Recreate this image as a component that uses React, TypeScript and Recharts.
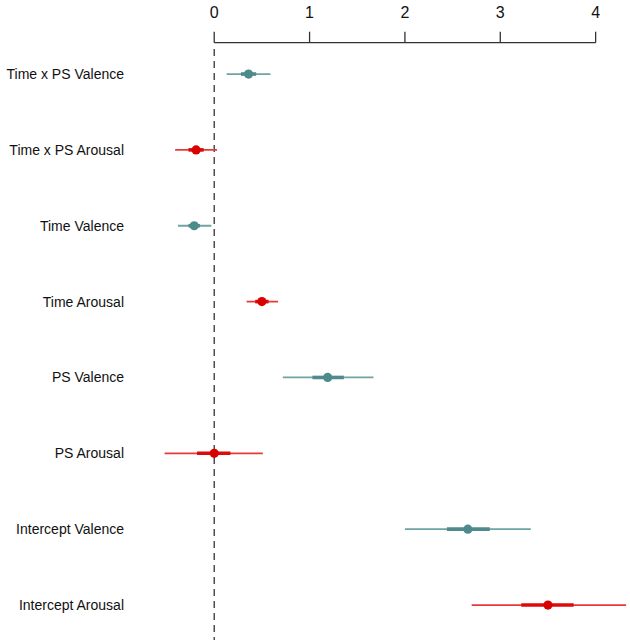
import React from 'react';
import { ScatterChart, Scatter, XAxis, YAxis, ReferenceLine } from 'recharts';

const labels = [
  'Time x PS Valence',
  'Time x PS Arousal',
  'Time Valence',
  'Time Arousal',
  'PS Valence',
  'PS Arousal',
  'Intercept Valence',
  'Intercept Arousal',
];
const groups = ['Valence', 'Arousal', 'Valence', 'Arousal', 'Valence', 'Arousal', 'Valence', 'Arousal'];
const estimates = [0.36, -0.19, -0.21, 0.5, 1.19, 0.0, 2.66, 3.5];
const lower95 = [0.13, -0.41, -0.38, 0.34, 0.72, -0.52, 2.0, 2.7];
const upper95 = [0.59, 0.03, -0.03, 0.67, 1.67, 0.51, 3.32, 4.32];
const lower50 = [0.28, -0.27, -0.27, 0.43, 1.03, -0.18, 2.44, 3.22];
const upper50 = [0.44, -0.11, -0.15, 0.57, 1.36, 0.17, 2.89, 3.77];
const xTicks = [0, 1, 2, 3, 4];

const COLORS: Record<string, { outer: string; inner: string; dot: string }> = {
  Valence: { outer: '#6fa3a4', inner: '#4f8b8d', dot: '#4d8a8b' },
  Arousal: { outer: '#e63a3a', inner: '#dc0b0b', dot: '#d90000' },
};

const rows = labels.map((label, i) => ({
  label,
  group: groups[i],
  y: i + 1,
  x: estimates[i],
  lo95: lower95[i],
  hi95: upper95[i],
  lo50: lower50[i],
  hi50: upper50[i],
}));

const valenceData = rows.filter((r) => r.group === 'Valence');
const arousalData = rows.filter((r) => r.group === 'Arousal');

const Y_DOMAIN: [number, number] = [0.587, 8.461];

const YTick = (props: any) => {
  const { x, y, payload } = props;
  return (
    <text
      x={x}
      y={y}
      dy="0.35em"
      textAnchor="end"
      fontFamily="'Liberation Sans', Arial, sans-serif"
      fontSize={14}
      fill="#111"
    >
      {labels[payload.value - 1]}
    </text>
  );
};

const Dot = (color: string) => (p: any) => <circle cx={p.cx} cy={p.cy} r={4.6} fill={color} />;

export default function App() {
  return (
    <div style={{ position: 'absolute', left: 0, top: 0, background: '#fff' }}>
      <ScatterChart width={630} height={640} margin={{ top: 0, right: 1, bottom: 0, left: 0 }}>
        <XAxis
          type="number"
          dataKey="x"
          orientation="top"
          domain={[-0.6, 4.35]}
          allowDataOverflow
          ticks={xTicks}
          height={42.7}
          axisLine={false}
          tickLine={{ stroke: '#333', strokeWidth: 1.3 }}
          tickSize={11}
          tickMargin={14}
          tick={{ fill: '#111', fontSize: 16, fontFamily: "'Liberation Sans', Arial, sans-serif" }}
        />
        <YAxis
          type="number"
          dataKey="y"
          reversed
          domain={Y_DOMAIN}
          allowDataOverflow
          ticks={[1, 2, 3, 4, 5, 6, 7, 8]}
          width={157}
          axisLine={false}
          tickLine={false}
          tickSize={0}
          tickMargin={33}
          tick={<YTick />}
        />
        <ReferenceLine
          segment={[{ x: 0, y: Y_DOMAIN[0] }, { x: 4, y: Y_DOMAIN[0] }]}
          stroke="#333"
          strokeWidth={1.3}
          ifOverflow="visible"
        />
        <ReferenceLine
          segment={[{ x: 0, y: 0.67 }, { x: 0, y: Y_DOMAIN[1] }]}
          stroke="#333"
          strokeWidth={1.3}
          strokeDasharray="7 5"
          ifOverflow="visible"
        />
        {rows.map((r) => (
          <ReferenceLine
            key={'o' + r.label}
            segment={[{ x: r.lo95, y: r.y }, { x: r.hi95, y: r.y }]}
            stroke={COLORS[r.group].outer}
            strokeWidth={1.8}
            ifOverflow="visible"
          />
        ))}
        {rows.map((r) => (
          <ReferenceLine
            key={'i' + r.label}
            segment={[{ x: r.lo50, y: r.y }, { x: r.hi50, y: r.y }]}
            stroke={COLORS[r.group].inner}
            strokeWidth={3.6}
            ifOverflow="visible"
          />
        ))}
        <Scatter data={valenceData} isAnimationActive={false} shape={Dot(COLORS.Valence.dot)} />
        <Scatter data={arousalData} isAnimationActive={false} shape={Dot(COLORS.Arousal.dot)} />
      </ScatterChart>
    </div>
  );
}
